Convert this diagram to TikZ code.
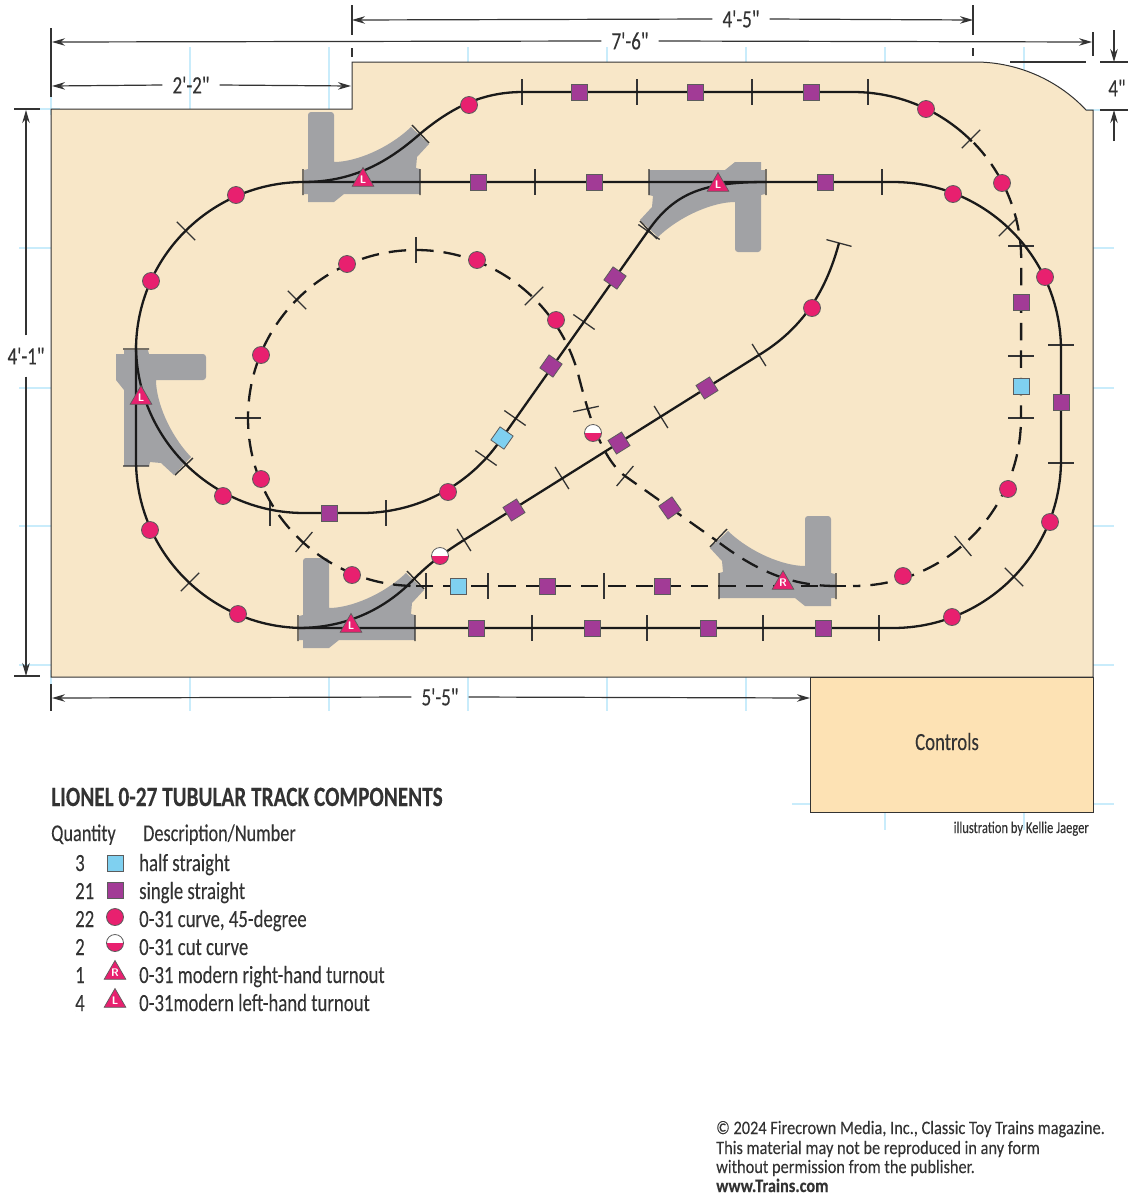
\documentclass[tikz,border=0pt]{standalone}
\usepackage{fontspec}
\usetikzlibrary{arrows.meta,shapes.geometric}
\newfontfamily\condfont[FakeStretch=0.76,FakeBold=0.12]{Carlito}
\newfontfamily\copyfont[FakeStretch=0.86,FakeBold=0.1]{Carlito}
\definecolor{boardtan}{HTML}{F8E7C8}
\definecolor{controltan}{HTML}{FDE2B4}
\definecolor{gridcyan}{HTML}{C9ECFB}
\definecolor{turnoutgray}{HTML}{A1A2A5}
\definecolor{halfblue}{HTML}{7FD0F0}
\definecolor{singlepurple}{HTML}{A23B96}
\definecolor{curvepink}{HTML}{E8206F}
\definecolor{inkgray}{HTML}{333333}
\definecolor{railblack}{HTML}{1A1A1A}
\tikzset{
  rail/.style={draw=railblack,line width=2.3pt},
  dashrail/.style={rail,dash pattern=on 17.5pt off 10pt,dash phase=#1},
  railtie/.style={rectangle,fill=inkgray,inner sep=0pt,minimum width=1.3pt,minimum height=26pt},
  halfpiece/.style={rectangle,draw=inkgray!80,line width=0.8pt,fill=halfblue,inner sep=0pt,minimum size=16pt},
  singlepiece/.style={halfpiece,fill=singlepurple},
  curvepiece/.style={circle,draw=inkgray!80,line width=0.8pt,fill=curvepink,inner sep=0pt,minimum size=17pt},
  cutpiece/.style={curvepiece,fill=white,path picture={\fill[curvepink] (path picture bounding box.west) rectangle (path picture bounding box.south east);}},
  turnpiece/.style={regular polygon,regular polygon sides=3,draw=inkgray!80,line width=0.7pt,fill=curvepink,inner sep=0pt,minimum size=25pt,text=white,font=\fontsize{11}{11}\bfseries\sffamily},
  dimline/.style={draw=inkgray,line width=1.2pt},
  dimarrow/.style={dimline,-{Stealth[length=13pt,width=7.5pt]}},
  dimtext/.style={font=\condfont\fontsize{25}{25}\selectfont,text=inkgray,inner xsep=10pt,inner ysep=0pt},
  gridtick/.style={draw=gridcyan,line width=1.4pt},
  legendtext/.style={font=\condfont\fontsize{24.7}{25}\selectfont,text=inkgray,anchor=base west,inner sep=0pt},
  copytext/.style={font=\copyfont\fontsize{19}{19}\selectfont,text=inkgray,anchor=base west,inner sep=0pt},
  turnoutbody/.pic={
    \fill[turnoutgray] (5,-20) [rounded corners=3pt] -- (5,-70) -- (31,-70) -- (31,-40) [sharp corners] -- (31,-20)
      .. controls (52,-20) and (85,-33) .. (108,-55) -- (126,-38) -- (114,-25) -- (113,-14) -- (117,-13)
      -- (117,12) -- (41,12) -- (31,20) -- (5,20) -- (5,12) -- (1,12) -- (1,-12) -- (5,-13) -- cycle;
    \draw[inkgray,line width=1.4pt] (0,-13) -- (0,13) (117,-13) -- (117,13) (109,-57) -- (126,-39);
  }
}
\begin{document}
\begin{tikzpicture}[x=1pt,y=-1pt]
\useasboundingbox (0,0) rectangle (1146,1200);

% grid marks under the board
\foreach \gx in {51,190,329,468,607,746,885,1024} \draw[gridtick] (\gx,47) -- (\gx,115);
\foreach \gx in {51,190,329,468,607,746} \draw[gridtick] (\gx,670) -- (\gx,711);
\foreach \gx in {885,1024} \draw[gridtick] (\gx,800) -- (\gx,830);
\foreach \gy in {248,388,526,665} {
  \draw[gridtick] (19,\gy) -- (60,\gy);
  \draw[gridtick] (1085,\gy) -- (1114,\gy);
}
\draw[gridtick] (40,109) -- (60,109);
\draw[gridtick] (1085,110) -- (1114,110);
\draw[gridtick] (792,804) -- (820,804);
\draw[gridtick] (1085,804) -- (1114,804);

% board and controls
\draw[fill=boardtan,draw=inkgray,line width=1pt] (51,109) -- (352,109) -- (352,62) -- (975,62)
  .. controls (1020,62) and (1060,82) .. (1086,110) -- (1093,110) -- (1093,677) -- (51,677) -- cycle;
\draw[fill=controltan,draw=inkgray,line width=1pt] (810,677) rectangle (1093,812);
\node[legendtext,anchor=base] (controls) at (947,750) {Controls};

% turnouts
\pic (toTopLeft) at (303,182) {turnoutbody};
\pic (toLowLeft) at (298,628) {turnoutbody};
\pic[rotate=180] (toTopRight) at (766,182) {turnoutbody};
\pic[rotate=-90] (toLeft) at (136,349) {turnoutbody};
\pic[xscale=-1] (toRight) at (836,586) {turnoutbody};

% ties
\foreach \tx/\ty/\tr [count=\i] in {535/182/0,882/182/0,532/628/0,647/628/0,763/628/0,879/628/0,
  1061/345/90,1061/463/90,186/231/45,190/582/-45,1008/227/-45,1014/577/45,
  270/513/0,386/513/0,486/458/55,515/418/55,584/322/55,649/232/55,
  464/540/32,562/478/32,661/417/32,759/355/32,839/243/75,
  522/92/0,637/92/0,752/92/0,868/92/0,971/139/-45,
  1021/246/90,1021/356/90,1021/418/90,963/546/40,
  426/586/0,488/586/0,604/586/0,
  416/250/0,297/300/45,248/418/90,534/296/-45,304/542/-40,586/409/-78,625/476/-40}
  \node[railtie,rotate=\tr] (tie\i) at (\tx,\ty) {};

% outer loop
\draw[rail] (304,182) -- (893,182) arc[start angle=-90,end angle=0,radius=168] -- (1061,460)
  arc[start angle=0,end angle=90,radius=168] -- (304,628) arc[start angle=90,end angle=180,radius=168]
  -- (136,350) arc[start angle=180,end angle=270,radius=168] -- cycle;
% upper branch
\draw[rail] (303,182) .. controls (350,182) and (385,165) .. (421,133)
  .. controls (455,105) and (485,92) .. (523,92) -- (853,92) arc[start angle=-90,end angle=-45,radius=168];
% crossing line
\draw[rail] (136,345) arc[start angle=180,end angle=90,radius=168] -- (362,513)
  arc[start angle=90,end angle=35.2,radius=168] -- (648,231)
  .. controls (675,192) and (705,182) .. (766,182);
% long diagonal
\draw[rail] (298,628) .. controls (345,628) and (385,610) .. (415,578)
  .. controls (430,563) and (445,552) .. (464,540) -- (759,355) .. controls (800,330) and (825,295) .. (839,243);
% dashed part, one run per stretch
\draw[dashrail=25pt] (972,141) arc[start angle=-45,end angle=0,radius=168] -- (1021,418);
\draw[dashrail=18.5pt] (1021,418) arc[start angle=0,end angle=90,radius=168];
\draw[dashrail=20pt] (853,586) -- (416,586);
\draw[dashrail=22pt] (416,586) arc[start angle=90,end angle=345,radius=168]
  .. controls (586,405) and (600,458) .. (625,476) -- (717,541);
\draw[dashrail=24pt] (717,541) .. controls (755,570) and (790,586) .. (836,586);

% track pieces
\foreach \sx/\sy/\sr [count=\i] in {476/628/0,592/628/0,708/628/0,823/628/0,478/182/0,594/182/0,825/182/0,1061/402/0,
  579/92/0,695/92/0,811/92/0,329/513/0,551/366/55,615/278/55,514/510/32,619/443/32,707/388/32,
  1021/302/0,547/586/0,662/586/0,670/508/35}
  \node[singlepiece,rotate=\sr] (single\i) at (\sx,\sy) {};
\foreach \hx/\hy/\hr [count=\i] in {1021/386/0,458/586/0,502/438/55}
  \node[halfpiece,rotate=\hr] (half\i) at (\hx,\hy) {};
\foreach \cx/\cy [count=\i] in {952/617,1050/522,1045/277,953/194,236/195,151/281,150/530,238/614,
  469/105,926/109,1002/183,1008/489,903/576,261/355,347/264,477/260,556/320,261/479,352/575,
  223/496,448/492,812/308}
  \node[curvepiece] (curve\i) at (\cx,\cy) {};
\node[cutpiece] (cut1) at (440,556) {};
\node[cutpiece] (cut2) at (593,433) {};
\node[turnpiece] (turnL1) at (363,180) {L};
\node[turnpiece] (turnL2) at (718,185) {L};
\node[turnpiece] (turnL3) at (141,398) {L};
\node[turnpiece] (turnL4) at (351,626) {L};
\node[turnpiece] (turnR1) at (783,583) {R};

% dimensions
\node[dimtext] (dimTop) at (741,19) {4'-5"};
\coordinate (dimTopL) at (352,20);
\coordinate (dimTopR) at (973,20);
\draw[dimarrow] (dimTop.west) -- (dimTopL);
\draw[dimarrow] (dimTop.east) -- (dimTopR);
\draw[dimline] (352,5) -- (352,35) (352,48) -- (352,57) (973,5) -- (973,35) (973,48) -- (973,56);
\node[dimtext] (dimLong) at (630,41) {7'-6"};
\coordinate (dimLongL) at (52,42);
\coordinate (dimLongR) at (1092,42);
\draw[dimarrow] (dimLong.west) -- (dimLongL);
\draw[dimarrow] (dimLong.east) -- (dimLongR);
\draw[dimline] (51,28) -- (51,97) (1093,32) -- (1093,56);
\node[dimtext] (dimStep) at (191,85) {2'-2"};
\coordinate (dimStepL) at (52,86);
\coordinate (dimStepR) at (351,86);
\draw[dimarrow] (dimStep.west) -- (dimStepL);
\draw[dimarrow] (dimStep.east) -- (dimStepR);
\node[dimtext] (dimLow) at (440,697) {5'-5"};
\coordinate (dimLowL) at (52,698);
\coordinate (dimLowR) at (810,698);
\draw[dimarrow] (dimLow.west) -- (dimLowL);
\draw[dimarrow] (dimLow.east) -- (dimLowR);
\draw[dimline] (51,684) -- (51,711);
\node[dimtext,inner xsep=0pt,inner ysep=12pt] (dimSide) at (26,356) {4'-1"};
\coordinate (dimSideT) at (26,110);
\coordinate (dimSideB) at (26,676);
\draw[dimarrow] (dimSide.north) -- (dimSideT);
\draw[dimarrow] (dimSide.south) -- (dimSideB);
\draw[dimline] (14,109) -- (40,109) (14,676) -- (40,676);
\node[dimtext,inner xsep=0pt] (dimCorner) at (1117,88) {4"};
\coordinate (dimCornerA) at (1114,30);
\coordinate (dimCornerB) at (1114,62);
\coordinate (dimCornerC) at (1114,141);
\coordinate (dimCornerD) at (1114,110);
\draw[dimarrow] (dimCornerA) -- (dimCornerB);
\draw[dimarrow] (dimCornerC) -- (dimCornerD);
\draw[dimline] (1100,62) -- (1128,62) (1100,110) -- (1128,110) (1010,62) -- (1086,62);

% legend
\node[legendtext,font=\condfont\bfseries\fontsize{28}{28}\selectfont] (legendTitle) at (51,806) {LIONEL 0-27 TUBULAR TRACK COMPONENTS};
\node[legendtext,font=\condfont\fontsize{24}{24}\selectfont] (headQty) at (51,841) {Quantity};
\node[legendtext,font=\condfont\fontsize{24}{24}\selectfont] (headDesc) at (143,841) {Description/Number};
\foreach \ly/\lq/\lt [count=\i] in {871/3/half straight,899/21/single straight,927/22/{0-31 curve, 45-degree},
  955/2/0-31 cut curve,983/1/0-31 modern right-hand turnout,1011/4/0-31modern left-hand turnout} {
  \node[legendtext] (legQty\i) at (75,\ly) {\lq};
  \node[legendtext] (legText\i) at (139,\ly) {\lt};
}
\node[halfpiece] (legHalf) at (115,863) {};
\node[singlepiece] (legSingle) at (115,890) {};
\node[curvepiece] (legCurve) at (115,917) {};
\node[cutpiece] (legCut) at (115,943) {};
\node[turnpiece] (legRight) at (115,973) {R};
\node[turnpiece] (legLeft) at (115,1001) {L};
\node[legendtext,font=\condfont\fontsize{16.5}{16.5}\selectfont,anchor=base east] (credit) at (1089,833) {illustration by Kellie Jaeger};

% copyright
\node[copytext] (copyA) at (716,1134) {© 2024 Firecrown Media, Inc., Classic Toy Trains magazine.};
\node[copytext] (copyB) at (716,1154) {This material may not be reproduced in any form};
\node[copytext] (copyC) at (716,1173) {without permission from the publisher.};
\node[copytext,font=\copyfont\bfseries\fontsize{19}{19}\selectfont] (copyD) at (716,1192) {www.Trains.com};
\end{tikzpicture}
\end{document}
